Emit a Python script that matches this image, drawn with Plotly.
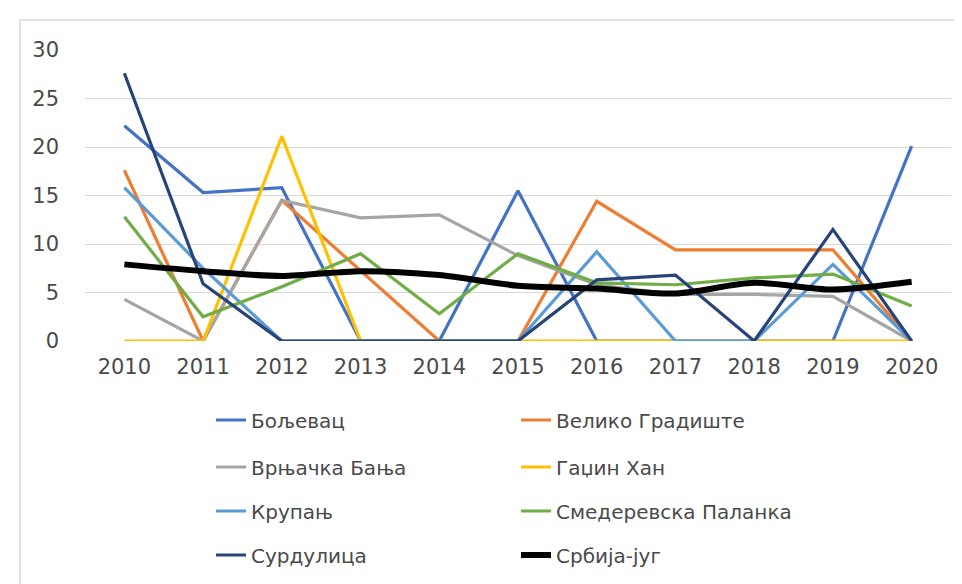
import plotly.graph_objects as go

years = [2010, 2011, 2012, 2013, 2014, 2015, 2016, 2017, 2018, 2019, 2020]

boljevac = [22.2, 15.3, 15.8, 0, 0, 15.5, 0, 0, 0, 0, 20.1]
veliko_gradiste = [17.6, 0, 14.5, 7.2, 0, 0, 14.4, 9.4, 9.4, 9.4, 0]
vrnjacka_banja = [4.3, 0, 14.5, 12.7, 13.0, 8.8, 5.8, 4.8, 4.8, 4.6, 0]
gadzin_han = [0, 0, 21.1, 0, 0, 0, 0, 0, 0, 0, 0]
krupanj = [15.8, 7.5, 0, 0, 0, 0, 9.2, 0, 0, 7.9, 0]
smederevska_palanka = [12.8, 2.5, 5.6, 9.0, 2.8, 9.0, 6.0, 5.8, 6.5, 6.9, 3.6]
surdulica = [27.6, 5.9, 0, 0, 0, 0, 6.3, 6.8, 0, 11.5, 0]
srbija_jug = [7.9, 7.2, 6.7, 7.2, 6.8, 5.7, 5.4, 4.9, 6.0, 5.3, 6.1]

y_ticks = [0, 5, 10, 15, 20, 25, 30]

series = [
    ("Бољевац", boljevac, "#4472C4", 3.2, "linear", "legend"),
    ("Велико Градиште", veliko_gradiste, "#ED7D31", 3.2, "linear", "legend"),
    ("Врњачка Бања", vrnjacka_banja, "#A5A5A5", 3.2, "linear", "legend2"),
    ("Гаџин Хан", gadzin_han, "#FFC000", 3.2, "linear", "legend2"),
    ("Крупањ", krupanj, "#5B9BD5", 3.2, "linear", "legend3"),
    ("Смедеревска Паланка", smederevska_palanka, "#70AD47", 3.2, "linear", "legend3"),
    ("Сурдулица", surdulica, "#264478", 3.2, "linear", "legend4"),
    ("Србија-југ", srbija_jug, "#000000", 6, "spline", "legend4"),
]

FONT = "DejaVu Sans"
TXT = "#4A4A4A"

fig = go.Figure()
for name, vals, color, w, shape, leg in series:
    fig.add_trace(go.Scatter(
        x=years, y=vals, name=name, mode="lines",
        line=dict(color=color, width=w, shape=shape, smoothing=0.8),
        legend=leg,
    ))

W, H = 962, 584
L, R, T, B = 77, 19, 42, 251
pw, ph = W - L - R, H - T - B

def px_x(p):
    return (p - L) / pw

def px_y(p):
    return (H - B - p) / ph

leg_common = dict(orientation="h", xanchor="left", yanchor="middle",
                  entrywidth=260, entrywidthmode="pixels",
                  font=dict(family=FONT, size=20, color=TXT),
                  bgcolor="rgba(0,0,0,0)", borderwidth=0)

row_y = [412, 459, 503, 547]
layout_legends = {}
for i, key in enumerate(["legend", "legend2", "legend3", "legend4"]):
    layout_legends[key] = dict(leg_common, x=px_x(203), y=px_y(row_y[i]))

fig.update_layout(
    width=W, height=H,
    margin=dict(l=L, r=R, t=T, b=B),
    paper_bgcolor="white", plot_bgcolor="white",
    font=dict(family=FONT, color=TXT),
    showlegend=True,
    xaxis=dict(range=[2009.5, 2020.5], tickvals=years, ticktext=[str(y) for y in years],
               showgrid=False, zeroline=False, showline=False, ticks="",
               tickfont=dict(family=FONT, size=21, color=TXT), ticklabelstandoff=11,
               fixedrange=True),
    yaxis=dict(range=[0, 30], tickvals=y_ticks, showgrid=True, gridcolor="#D9D9D9",
               gridwidth=1, zeroline=False, showline=False, ticks="",
               tickfont=dict(family=FONT, size=21, color=TXT), ticklabelstandoff=25,
               fixedrange=True),
    shapes=[dict(type="rect", xref="paper", yref="paper",
                 x0=px_x(12), x1=px_x(990), y0=px_y(620), y1=px_y(12),
                 line=dict(color="#D9D9D9", width=1.5), fillcolor="rgba(0,0,0,0)",
                 layer="below")],
    **layout_legends,
)

fig.write_html("out.html")
